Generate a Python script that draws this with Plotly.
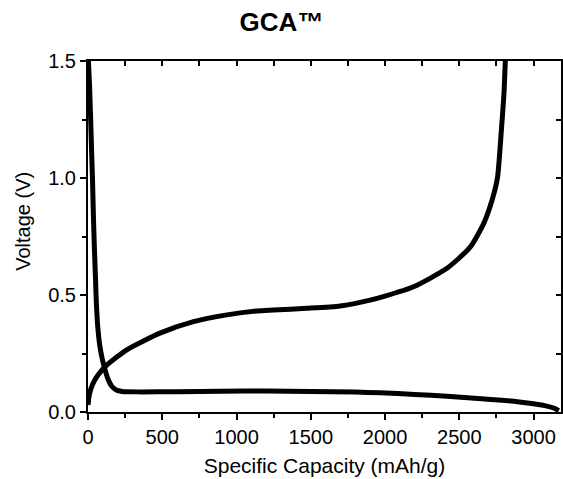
import plotly.graph_objects as go

# Discharge (lithiation) curve
discharge_cap = [3, 10, 18, 25, 30, 36, 42, 50, 56, 65, 80, 95, 115, 135, 160, 190, 230,
                 350, 600, 900, 1200, 1500, 1800, 1968, 2200, 2417, 2650, 2866, 3000,
                 3090, 3140, 3170]
discharge_v = [1.5, 1.4, 1.25, 1.1, 1.0, 0.85, 0.72, 0.58, 0.47, 0.37, 0.28, 0.23, 0.18,
               0.14, 0.11, 0.094, 0.088, 0.086, 0.087, 0.089, 0.09, 0.088, 0.085, 0.082,
               0.075, 0.067, 0.057, 0.046, 0.035, 0.025, 0.016, 0.006]

# Charge (delithiation) curve
charge_cap = [0, 8, 20, 40, 70, 126, 261, 485, 710, 935, 1137, 1249, 1473, 1698, 1900,
              2000, 2192, 2417, 2574, 2664, 2720, 2757, 2783, 2800, 2810]
charge_v = [0.03, 0.07, 0.1, 0.13, 0.16, 0.2, 0.266, 0.337, 0.386, 0.415, 0.432, 0.436,
            0.443, 0.453, 0.478, 0.495, 0.535, 0.614, 0.705, 0.805, 0.904, 1.0, 1.2, 1.35, 1.5]

x_ticks = [0, 500, 1000, 1500, 2000, 2500, 3000]
y_ticks = [0.0, 0.5, 1.0, 1.5]
x_range = [0, 3185]
y_range = [0, 1.5]

FONT = "Liberation Sans, Arial, sans-serif"

fig = go.Figure()
fig.add_trace(go.Scatter(x=discharge_cap, y=discharge_v, mode="lines",
                         line=dict(color="black", width=5, shape="spline", smoothing=0.6),
                         showlegend=False))
fig.add_trace(go.Scatter(x=charge_cap, y=charge_v, mode="lines",
                         line=dict(color="black", width=5, shape="spline", smoothing=0.6),
                         showlegend=False))
# invisible trace to activate the mirror axes
fig.add_trace(go.Scatter(x=[None], y=[None], xaxis="x2", yaxis="y2", showlegend=False,
                         hoverinfo="skip"))

axis_common = dict(showgrid=False, zeroline=False, showline=True, linecolor="black",
                   linewidth=2, tickcolor="black", tickwidth=2)

fig.update_layout(
    width=563, height=479,
    margin=dict(l=88, r=2, t=61, b=67),
    paper_bgcolor="white", plot_bgcolor="white",
    font=dict(family=FONT, color="black", size=20),
    title=dict(text="<b>GCA™</b>", x=0.5, xanchor="center", y=0.955, yanchor="middle",
               font=dict(size=26, family=FONT, color="black")),
    xaxis=dict(range=x_range, tickvals=x_ticks, ticks="outside", ticklen=6,
               tickfont=dict(size=20),
               minor=dict(dtick=250, tick0=0, ticks="outside", ticklen=4, tickwidth=2,
                          tickcolor="black"),
               title=dict(text="Specific Capacity (mAh/g)", font=dict(size=21), standoff=11),
               **axis_common),
    yaxis=dict(range=y_range, tickvals=y_ticks, tickformat=".1f", ticks="outside", ticklen=6,
               tickfont=dict(size=20),
               minor=dict(dtick=0.25, tick0=0, ticks="outside", ticklen=4, tickwidth=2,
                          tickcolor="black"),
               **axis_common),
    xaxis2=dict(range=x_range, overlaying="x", side="top", anchor="y", dtick=250, tick0=0,
                ticks="inside", ticklen=5, showticklabels=False, **axis_common),
    yaxis2=dict(range=y_range, overlaying="y", side="right", anchor="x", dtick=0.25, tick0=0,
                ticks="inside", ticklen=5, showticklabels=False, **axis_common),
    annotations=[dict(text="Voltage (V)", textangle=-90, xref="paper", yref="paper",
                      x=0, y=0.542, xanchor="center", yanchor="middle", xshift=-65,
                      showarrow=False, font=dict(size=20, family=FONT, color="black"))],
)

fig.write_html("out.html", config={"displayModeBar": False},
               post_script="document.body.style.margin='0';")
